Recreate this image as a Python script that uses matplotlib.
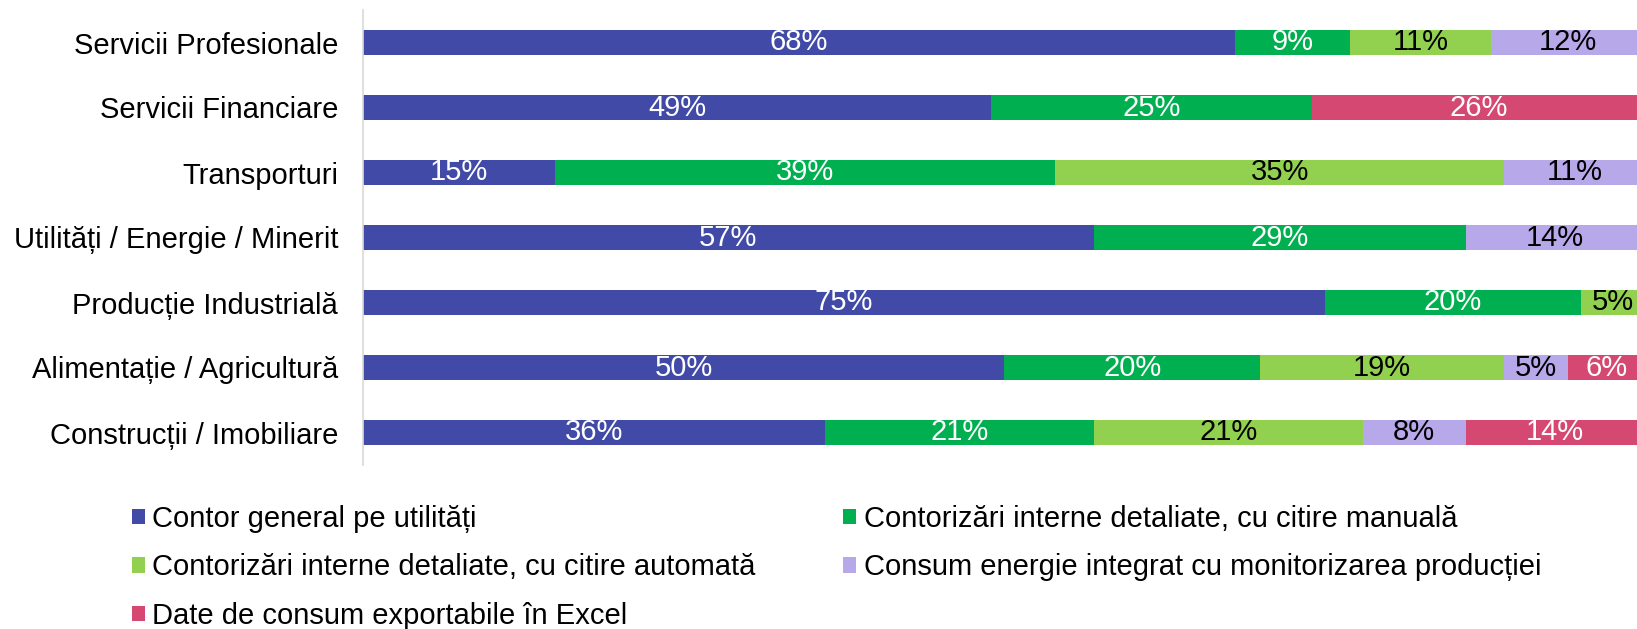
import matplotlib.pyplot as plt
import numpy as np

plt.rcParams['font.family'] = ['Liberation Sans', 'DejaVu Sans']

categories = ["Servicii Profesionale", "Servicii Financiare", "Transporturi",
              "Utilități / Energie / Minerit", "Producție Industrială",
              "Alimentație / Agricultură", "Construcții / Imobiliare"]

series_names = ["Contor general pe utilități",
                "Contorizări interne detaliate, cu citire manuală",
                "Contorizări interne detaliate, cu citire automată",
                "Consum energie integrat cu monitorizarea producției",
                "Date de consum exportabile în Excel"]

contor_general = [68, 49, 15, 57, 75, 50, 36]
citire_manuala = [9, 25, 39, 29, 20, 20, 21]
citire_automata = [11, 0, 35, 0, 5, 19, 21]
consum_integrat = [12, 0, 11, 14, 0, 5, 8]
date_excel = [0, 26, 0, 0, 0, 6, 14]

colors = ["#414AA7", "#00AF50", "#92D050", "#B7A8EA", "#D54871"]
text_colors = ["white", "white", "black", "black", "white"]

values = [contor_general, citire_manuala, citire_automata, consum_integrat, date_excel]

fig = plt.figure(figsize=(16.37, 6.29), dpi=100)
ax = fig.add_axes([363 / 1637, 1 - 465 / 629, (1645 - 363) / 1637, (465 - 10) / 629])

y = np.arange(len(categories))
left = np.zeros(len(categories))
handles = []
for name, vals, col, tcol in zip(series_names, values, colors, text_colors):
    vals = np.array(vals, dtype=float)
    bars = ax.barh(y, vals, left=left, height=0.39, color=col, label=name)
    handles.append(bars)
    for yi, l, v in zip(y, left, vals):
        if v > 0:
            ax.text(l + v / 2, yi, f"{int(v)}%", ha="center", va="center",
                    color=tcol, fontsize=21)
    left += vals

ax.set_xlim(0, 100)
ax.set_ylim(len(categories) - 0.5, -0.5)
ax.set_yticks(y)
ax.set_yticklabels(categories, fontsize=21)
ax.tick_params(axis="y", length=0, pad=18)
ax.set_xticks([])
for s in ["top", "right", "bottom"]:
    ax.spines[s].set_visible(False)
ax.spines["left"].set_color("#D9D9D9")
ax.spines["left"].set_linewidth(1.2)

order = [0, 2, 4, 1, 3]
fig.legend([handles[i] for i in order], [series_names[i] for i in order],
           loc="upper left", bbox_to_anchor=(132 / 1637, 1 - 505 / 629),
           ncol=2, frameon=False, fontsize=21, handlelength=0.45, handleheight=0.45,
           handletextpad=0.25, labelspacing=0.7, columnspacing=3.0,
           borderaxespad=0, borderpad=0)

fig.savefig("out.png", dpi=100)
